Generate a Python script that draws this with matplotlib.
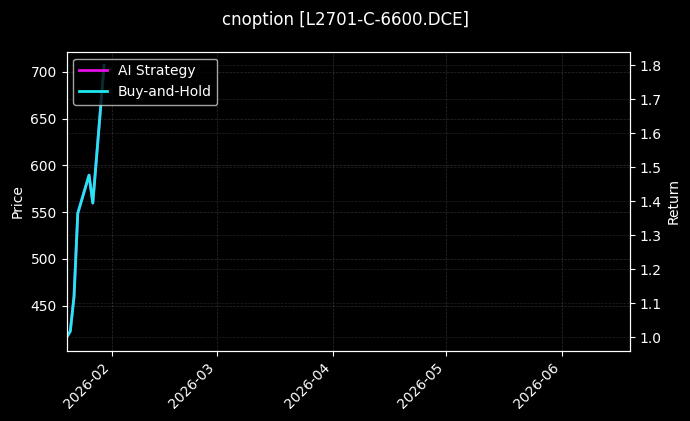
import matplotlib
matplotlib.use("Agg")
import matplotlib.pyplot as plt
import matplotlib.dates as mdates
import pandas as pd
import numpy as np

dates = pd.to_datetime(["2026-01-20", "2026-01-21", "2026-01-22", "2026-01-23",
                        "2026-01-26", "2026-01-27", "2026-01-30"])
price = [416, 422, 459, 548, 588, 559, 707]
ai_return = [1.0, 1.018, 1.12, 1.365, 1.477, 1.395, 1.80]
bh_return = [1.0, 1.018, 1.12, 1.365, 1.477, 1.395, 1.80]
x_start, x_end = pd.Timestamp("2026-01-20"), pd.Timestamp("2026-06-19")

plt.style.use("dark_background")
fig = plt.figure(figsize=(6.9, 4.21), dpi=100)
ax = fig.add_axes([0.0964, 0.1663, 0.8162, 0.7109])
ax.set_facecolor("black")
ax.plot(dates, price, color="#8b0000", alpha=0.2, linewidth=1)
ax.set_ylabel("Price")
ax.grid(True, linestyle="--", linewidth=0.5, color="gray", alpha=0.35)

ax2 = ax.twinx()
l1, = ax2.plot(dates, ai_return, color="#e60ee6", linewidth=2, label="AI Strategy")
l2, = ax2.plot(dates, bh_return, color="#1ee8f0", linewidth=2, label="Buy-and-Hold")
ax2.set_ylabel("Return")
ax2.grid(True, linestyle="--", linewidth=0.5, color="gray", alpha=0.25)

ax.set_xlim(x_start, x_end)
ax.xaxis.set_major_locator(mdates.MonthLocator())
ax.xaxis.set_major_formatter(mdates.DateFormatter("%Y-%m"))
for lab in ax.get_xticklabels():
    lab.set_rotation(45)
    lab.set_ha("right")

leg = ax2.legend(handles=[l1, l2], loc="upper left", framealpha=0.8)
leg.get_frame().set_facecolor("black")
leg.get_frame().set_edgecolor("#cccccc")
fig.suptitle("cnoption [L2701-C-6600.DCE]", fontsize=12, y=0.975)
fig.savefig("out.png", dpi=100, facecolor="black")
